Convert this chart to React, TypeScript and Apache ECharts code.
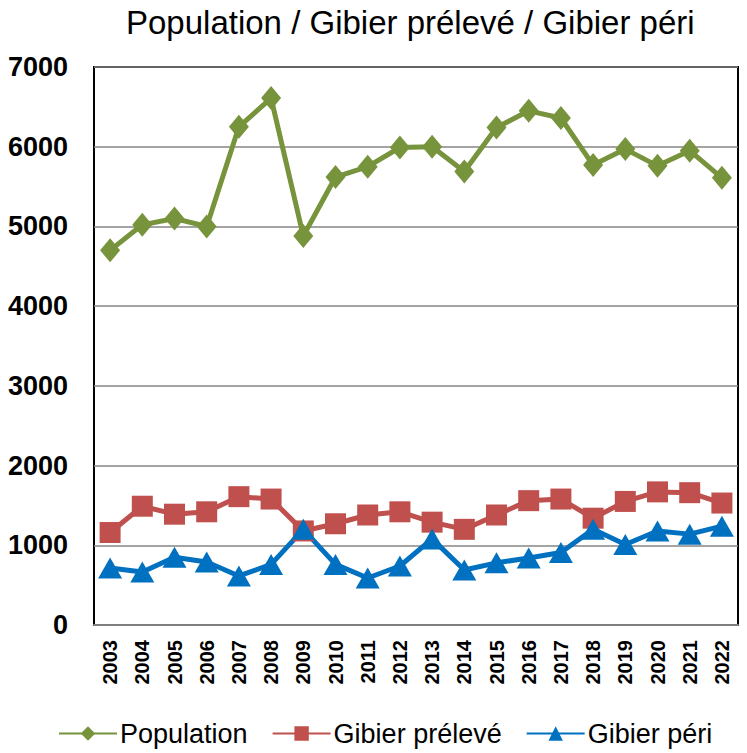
import React, { useEffect, useRef } from "react";
import * as echarts from "echarts";

const years = ["2003","2004","2005","2006","2007","2008","2009","2010","2011","2012","2013","2014","2015","2016","2017","2018","2019","2020","2021","2022"];
const population = [4700,5020,5100,5000,6250,6610,4880,5620,5750,5990,6000,5690,6240,6450,6360,5770,5970,5760,5950,5610];
const gibierPreleve = [1160,1490,1390,1420,1610,1580,1180,1270,1380,1420,1290,1200,1380,1560,1580,1340,1550,1670,1660,1530];
const gibierPeri = [715,665,850,790,615,760,1200,760,590,740,1080,690,780,840,910,1200,1010,1180,1140,1240];
const yTicks = { min: 0, max: 7000, interval: 1000 };

const FONT = "'Liberation Sans', Arial, sans-serif";

export default function App() {
  const ref = useRef<HTMLDivElement>(null);
  useEffect(() => {
    if (!ref.current) return;
    const chart = echarts.init(ref.current, null, { renderer: "svg" });
    const mk = (name: string, data: number[], color: string, symbol: string, size: any) => ({
      name,
      type: "line",
      data,
      symbol,
      symbolSize: size,
      showAllSymbol: true,
      lineStyle: { color, width: 5 },
      itemStyle: { color },
      emphasis: { disabled: true },
    });
    chart.setOption({
      animation: false,
      backgroundColor: "#fff",
      title: {
        text: "Population / Gibier prélevé / Gibier péri",
        left: 121,
        top: 1,
        textStyle: { fontFamily: FONT, fontSize: 33, fontWeight: "normal", color: "#000" },
      },
      legend: {
        left: 53,
        top: 715,
        itemWidth: 58,
        itemHeight: 18,
        itemGap: 24,
        textStyle: { fontFamily: FONT, fontSize: 27, color: "#000", padding: [0, 0, 0, -2] },
        data: ["Population", "Gibier prélevé", "Gibier péri"],
      },
      grid: {
        left: 94,
        right: 9,
        top: 67,
        bottom: 128,
        show: true,
        borderColor: "#000",
        borderWidth: 2,
        backgroundColor: "transparent",
      },
      xAxis: {
        type: "category",
        data: years,
        boundaryGap: true,
        axisLine: { show: true, lineStyle: { color: "#7f7f7f", width: 2 } },
        axisTick: { show: false },
        axisLabel: {
          rotate: 90,
          margin: 15,
          interval: 0,
          fontFamily: FONT,
          fontSize: 20,
          fontWeight: "bold",
          color: "#000",
        },
      },
      yAxis: {
        type: "value",
        min: yTicks.min,
        max: yTicks.max,
        interval: yTicks.interval,
        axisLine: { show: false },
        axisTick: { show: false },
        splitLine: { show: true, lineStyle: { color: "#868686", width: 1.5 } },
        axisLabel: {
          margin: 26,
          fontFamily: FONT,
          fontSize: 27,
          fontWeight: "bold",
          color: "#000",
          formatter: (v: number) => String(v),
        },
      },
      series: [
        mk("Population", population, "#77933C", "diamond", [20, 24]),
        mk("Gibier prélevé", gibierPreleve, "#C0504D", "rect", 21),
        mk("Gibier péri", gibierPeri, "#0070C0", "triangle", [24, 21]),
      ],
    });
    return () => chart.dispose();
  }, []);
  return <div ref={ref} style={{ position: "fixed", left: 0, top: 0, width: 747, height: 753 }} />;
}
